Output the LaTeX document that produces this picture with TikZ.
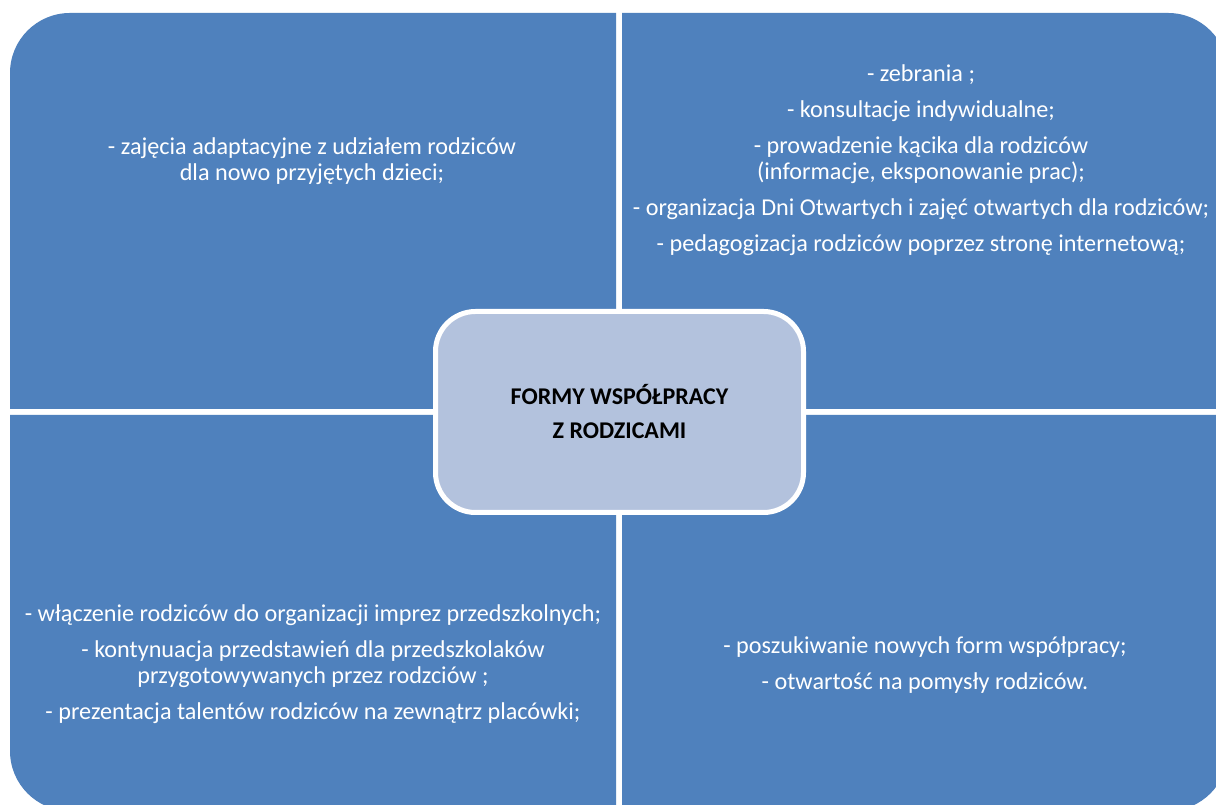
\documentclass[tikz,border=0pt]{standalone}
\usepackage{fontspec}
\setmainfont{Carlito}
\definecolor{quad}{HTML}{4F81BD}
\definecolor{ctr}{HTML}{B3C2DD}
\begin{document}
\begin{tikzpicture}[x=1pt,y=1pt,
  quadfill/.style={fill=quad},
  txt/.style={text=white,align=center,inner sep=0pt,font=\fontsize{24.2}{25.5}\selectfont},
  centrebox/.style={draw=white,line width=5pt,fill=ctr,rounded corners=40pt,
    minimum width=368pt,minimum height=201pt,align=center,text=black,
    font=\bfseries\fontsize{24}{34}\selectfont}]
\useasboundingbox (0,0) rectangle (1216,805);
\clip (0,0) rectangle (1216,805);
\fill[white] (0,0) rectangle (1216,805);
% quadrants
\fill[quadfill] (616,396) -- (10,396) -- (10,732) arc[start angle=180,end angle=90,radius=60pt] -- (616,792) -- cycle;
\fill[quadfill] (622,396) -- (622,792) -- (1168,792) arc[start angle=90,end angle=0,radius=60pt] -- (1228,396) -- cycle;
\fill[quadfill] (616,390) -- (10,390) -- (10,54) arc[start angle=180,end angle=270,radius=60pt] -- (616,-6) -- cycle;
\fill[quadfill] (622,390) -- (1228,390) -- (1228,54) arc[start angle=0,end angle=-90,radius=60pt] -- (622,-6) -- cycle;
% texts
\node[txt] (tl) at (312,644) {- zajęcia adaptacyjne z udziałem rodziców\\dla nowo przyjętych dzieci;};
\node[txt] (tr) at (921,645) {- zebrania ;\\[10.5pt]- konsultacje indywidualne;\\[11pt]- prowadzenie kącika dla rodziców\\(informacje, eksponowanie prac);\\[11pt]- organizacja Dni Otwartych i zajęć otwartych dla rodziców;\\[10.5pt]- pedagogizacja rodziców poprzez stronę internetową;};
\node[txt] (bl) at (313,141) {- włączenie rodziców do organizacji imprez przedszkolnych;\\[11pt]- kontynuacja przedstawień dla przedszkolaków\\przygotowywanych przez rodzciów ;\\[11pt]- prezentacja talentów rodziców na zewnątrz placówki;};
\node[txt] (br) at (925,140) {- poszukiwanie nowych form współpracy;\\[11pt]- otwartość na pomysły rodziców.};
% centre
\node[centrebox] (centre) at (619.5,393) {FORMY WSPÓŁPRACY\\Z RODZICAMI};
\end{tikzpicture}
\end{document}
